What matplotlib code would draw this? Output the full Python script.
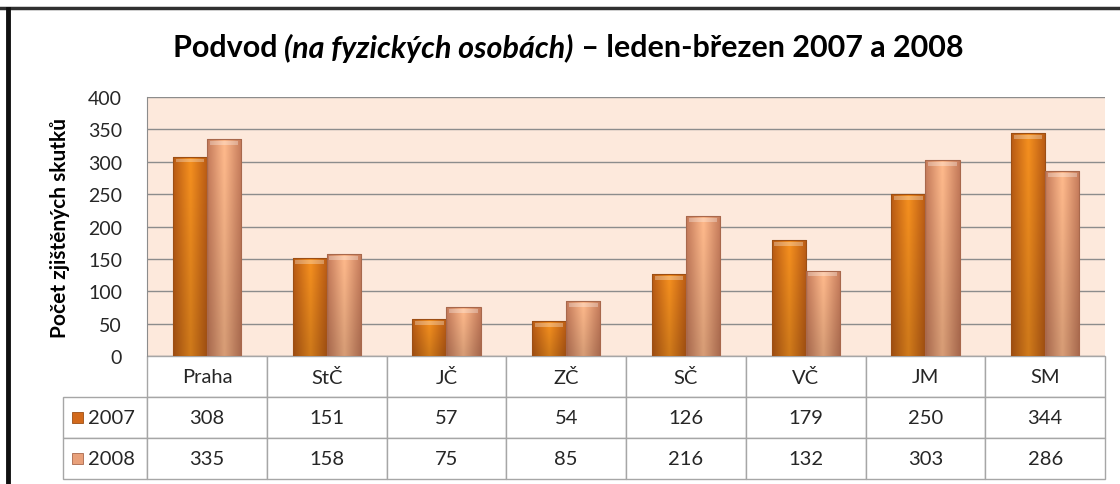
import numpy as np
import matplotlib.pyplot as plt
from matplotlib.colors import LinearSegmentedColormap
from matplotlib.patches import Rectangle
from matplotlib.table import Table

plt.rcParams['font.family'] = ['Lato', 'DejaVu Sans']

# data
regions = ['Praha', 'StČ', 'JČ', 'ZČ', 'SČ', 'VČ', 'JM', 'SM']
years = ['2007', '2008']
v2007 = [308, 151, 57, 54, 126, 179, 250, 344]
v2008 = [335, 158, 75, 85, 216, 132, 303, 286]
yticks = [0, 50, 100, 150, 200, 250, 300, 350, 400]

fill = {'2007': ['#b85a14', '#f5901f', '#b85a14'],
        '2008': ['#c47a5a', '#ffba8c', '#c47a5a']}
edge = {'2007': '#9c4e14', '2008': '#a8684c'}
swatch = {'2007': '#d2691b', '2008': '#e8a07a'}

fig = plt.figure(figsize=(11.2, 4.85), dpi=100)
ax = fig.add_axes([0.1313, 0.2639, 0.8554, 0.5340])
ax.set_facecolor('#fde9dc')

x = np.arange(len(regions))
w = 0.285
for vals, name, off in [(v2007, '2007', -w / 2), (v2008, '2008', w / 2)]:
    bars = ax.bar(x + off, vals, width=w, color='none', edgecolor=edge[name],
                  linewidth=0.8, zorder=3)
    cmap = LinearSegmentedColormap.from_list(name, fill[name])
    grad = np.linspace(0, 1, 64)[None, :].repeat(8, axis=0)
    shade = np.linspace(0.85, 1.0, 8)[:, None]
    for b in bars:
        bx, by = b.get_x(), b.get_y()
        bw, bh = b.get_width(), b.get_height()
        rgb = cmap(grad)[..., :3] * shade[..., None]
        im = ax.imshow(rgb, extent=[bx, bx + bw, by, by + bh], aspect='auto',
                       origin='lower', zorder=2, interpolation='bicubic')
        im.set_clip_path(b)
        # light bevel at the top
        ax.add_patch(Rectangle((bx + bw * 0.08, by + bh - 9), bw * 0.84, 6,
                               facecolor='white', alpha=0.3, lw=0, zorder=4))

ax.set_xlim(-0.5, len(regions) - 0.5)
ax.set_ylim(0, 400)
ax.set_yticks(yticks)
ax.set_xticks([])
ax.yaxis.grid(True, color='#8c8c8c', linewidth=1.0, zorder=1)
ax.tick_params(axis='y', length=0, labelsize=14, labelcolor='#262626', pad=18)
for s in ['top', 'right', 'bottom']:
    ax.spines[s].set_visible(False)
ax.spines['left'].set_color('#8c8c8c')

ax.set_ylabel('Počet zjištěných skutků', fontsize=15, fontweight='bold',
              labelpad=13)

# data table (bbox covers the data cells, row labels hang to the left)
lab_w = 84 / 958
tbl = Table(ax, bbox=[0, -0.475, 1, 0.475])
rows = [regions, [str(v) for v in v2007], [str(v) for v in v2008]]
for r, row in enumerate(rows):
    for c, txt in enumerate(row):
        tbl.add_cell(r, c, width=1 / 8, height=1 / 3, text=txt, loc='center')
    if r > 0:
        tbl.add_cell(r, -1, width=lab_w, height=1 / 3,
                     text=years[r - 1], loc='left')
tbl.auto_set_font_size(False)
tbl.set_fontsize(14.5)
for (r, c), cell in tbl.get_celld().items():
    cell.set_edgecolor('#a6a6a6')
    cell.set_linewidth(1.0)
    cell.get_text().set_color('#262626')
    if c == -1:
        cell.PAD = 0.30
ax.add_table(tbl)

# legend swatches in row labels
for i, name in enumerate(years):
    yc = -0.475 + 0.475 * (1 - i) / 3 + 0.475 / 6
    ax.add_patch(Rectangle((-0.0783, yc - 0.0212), 0.0115, 0.0425,
                           transform=ax.transAxes, clip_on=False,
                           facecolor=swatch[name], edgecolor=edge[name],
                           lw=0.6, zorder=5))

# title with italic middle part, centred as a whole
parts = [('Podvod ', 'normal'), ('(na fyzických osobách)', 'italic'),
         (' – leden-březen 2007 a 2008', 'normal')]
ty = 0.901
texts = [fig.text(0, ty, t, fontsize=22, fontweight='bold', fontstyle=st,
                  ha='left', va='center') for t, st in parts]
r = fig.canvas.get_renderer()
widths = [t.get_window_extent(r).width / fig.bbox.width for t in texts]
left = 568 / 1120 - sum(widths) / 2
for t, wd in zip(texts, widths):
    t.set_x(left)
    left += wd

# frame lines of the source picture
fig.add_artist(plt.Line2D([0, 1], [0.981, 0.981], color='#303030', lw=2.5))
fig.add_artist(plt.Line2D([0.0075, 0.0075], [0, 0.98], color='#101010', lw=3.5))

fig.savefig('out.png', dpi=100)
